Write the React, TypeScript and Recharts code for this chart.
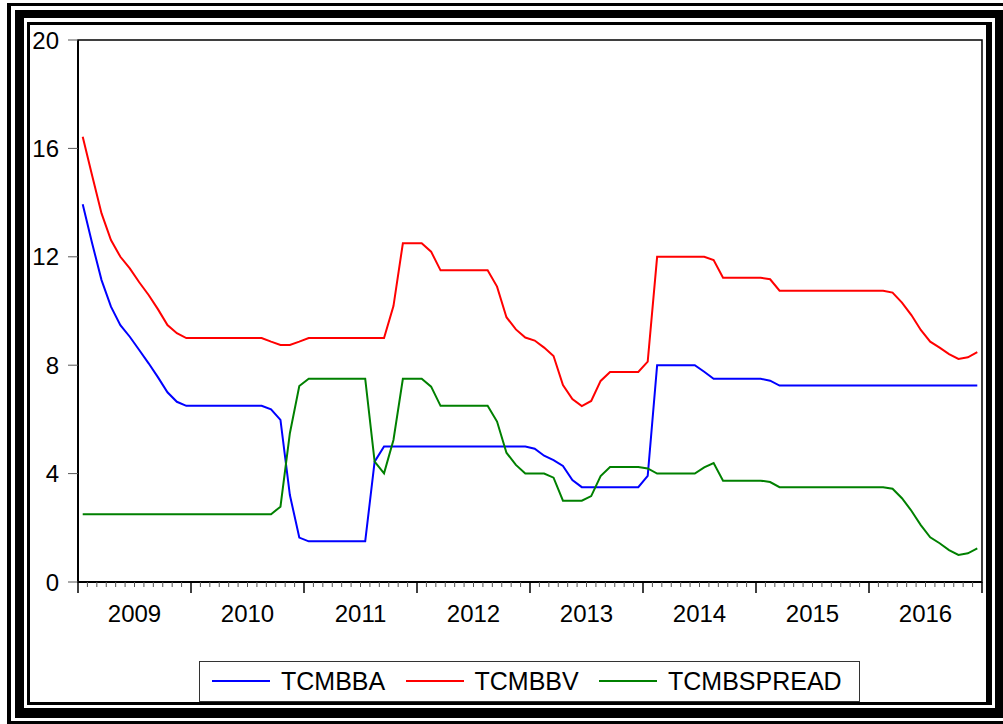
import { LineChart, Line, XAxis, YAxis, ReferenceArea } from "recharts";

const YEARS = ["2009", "2010", "2011", "2012", "2013", "2014", "2015", "2016"];
const Y_TICKS = [0, 4, 8, 12, 16, 20];

// monthly, 2009M01 .. 2016M12
const TCMBBA = [
  13.94, 12.5, 11.14, 10.16, 9.48, 9.05, 8.56, 8.07, 7.55, 7.0, 6.65, 6.5,
  6.5, 6.5, 6.5, 6.5, 6.5, 6.5, 6.5, 6.5, 6.37, 5.98, 3.21, 1.64,
  1.5, 1.5, 1.5, 1.5, 1.5, 1.5, 1.5, 4.44, 5.0, 5.0, 5.0, 5.0,
  5.0, 5.0, 5.0, 5.0, 5.0, 5.0, 5.0, 5.0, 5.0, 5.0, 5.0, 5.0,
  4.92, 4.66, 4.5, 4.28, 3.76, 3.5, 3.5, 3.5, 3.5, 3.5, 3.5, 3.5,
  3.92, 8.0, 8.0, 8.0, 8.0, 8.0, 7.76, 7.5, 7.5, 7.5, 7.5, 7.5,
  7.5, 7.43, 7.25, 7.25, 7.25, 7.25, 7.25, 7.25, 7.25, 7.25, 7.25, 7.25,
  7.25, 7.25, 7.25, 7.25, 7.25, 7.25, 7.25, 7.25, 7.25, 7.25, 7.25, 7.25,
];

const TCMBBV = [
  16.43, 15.0, 13.6, 12.62, 12.0, 11.57, 11.06, 10.59, 10.06, 9.48, 9.18, 9.0,
  9.0, 9.0, 9.0, 9.0, 9.0, 9.0, 9.0, 9.0, 8.87, 8.75, 8.75, 8.87,
  9.0, 9.0, 9.0, 9.0, 9.0, 9.0, 9.0, 9.0, 9.0, 10.18, 12.5, 12.5,
  12.5, 12.19, 11.5, 11.5, 11.5, 11.5, 11.5, 11.5, 10.9, 9.77, 9.32, 9.02,
  8.91, 8.65, 8.34, 7.27, 6.75, 6.49, 6.68, 7.42, 7.75, 7.75, 7.75, 7.75,
  8.13, 12.0, 12.0, 12.0, 12.0, 12.0, 12.0, 11.88, 11.23, 11.23, 11.23, 11.23,
  11.23, 11.17, 10.75, 10.75, 10.75, 10.75, 10.75, 10.75, 10.75, 10.75, 10.75, 10.75,
  10.75, 10.75, 10.68, 10.31, 9.85, 9.3, 8.87, 8.65, 8.41, 8.23, 8.29, 8.48,
];

const TCMBSPREAD = [
  2.5, 2.5, 2.5, 2.5, 2.5, 2.5, 2.5, 2.5, 2.5, 2.5, 2.5, 2.5,
  2.5, 2.5, 2.5, 2.5, 2.5, 2.5, 2.5, 2.5, 2.5, 2.78, 5.49, 7.23,
  7.5, 7.5, 7.5, 7.5, 7.5, 7.5, 7.5, 4.44, 4.01, 5.24, 7.5, 7.5,
  7.5, 7.21, 6.5, 6.5, 6.5, 6.5, 6.5, 6.5, 5.92, 4.77, 4.32, 4.0,
  4.0, 4.0, 3.85, 3.0, 3.0, 3.0, 3.17, 3.91, 4.24, 4.24, 4.24, 4.24,
  4.19, 4.0, 4.0, 4.0, 4.0, 4.0, 4.23, 4.39, 3.74, 3.74, 3.74, 3.74,
  3.74, 3.69, 3.5, 3.5, 3.5, 3.5, 3.5, 3.5, 3.5, 3.5, 3.5, 3.5,
  3.5, 3.5, 3.44, 3.09, 2.63, 2.1, 1.65, 1.43, 1.18, 1.0, 1.06, 1.24,
];

const SERIES = [
  { key: "ba", label: "TCMBBA", color: "#0000ff" },
  { key: "bv", label: "TCMBBV", color: "#ff0000" },
  { key: "sp", label: "TCMBSPREAD", color: "#008000" },
];

const FONT = "'Liberation Sans', Arial, sans-serif";
const MONTHS = YEARS.length * 12;

const data = TCMBBA.map((v, i) => ({
  t: i + 0.5,
  ba: v,
  bv: TCMBBV[i],
  sp: TCMBSPREAD[i],
}));

const monthTicks = Array.from({ length: MONTHS + 1 }, (_, i) => i);

function MonthTick(props: any) {
  const { x, y, payload } = props;
  const m = payload.value as number;
  const major = m % 12 === 0;
  const label = m % 12 === 6 ? YEARS[(m - 6) / 12] : null;
  return (
    <g>
      <line
        x1={x}
        x2={x}
        y1={y}
        y2={y + (major ? 11 : 5)}
        stroke={major ? "#000" : "#555"}
        strokeWidth={major ? 1.5 : 1}
      />
      {label && (
        <text x={x} y={y + 40} textAnchor="middle" fontSize={24} fontFamily={FONT} fill="#000">
          {label}
        </text>
      )}
    </g>
  );
}

// double-ruled page frame: [left, top, right, bottom] edges and [l, t, r, b] widths
function Band({ box, w }: { box: number[]; w: number[] }) {
  const [l, t, r, b] = box;
  return (
    <div
      style={{
        position: "absolute",
        left: l,
        top: t,
        width: r - l,
        height: b - t,
        borderStyle: "solid",
        borderColor: "#000",
        borderWidth: `${w[1]}px ${w[2]}px ${w[3]}px ${w[0]}px`,
        boxSizing: "border-box",
      }}
    />
  );
}

export default function App() {
  return (
    <div
      style={{
        position: "absolute",
        left: 0,
        top: 0,
        width: 1003,
        height: 724,
        background: "#fff",
        overflow: "hidden",
      }}
    >
      <Band box={[7, 3, 1010, 725]} w={[4, 3, 4, 4]} />
      <Band box={[15, 10, 1003, 718]} w={[9, 8, 8, 10]} />
      <Band box={[27, 22, 992, 705]} w={[3, 3, 6, 3]} />
      <div style={{ position: "absolute", left: 0, top: 0 }}>
        <LineChart
          width={1003}
          height={724}
          data={data}
          margin={{ top: 40, right: 21, left: 18, bottom: 102 }}
        >
          <ReferenceArea
            x1={0}
            x2={MONTHS}
            y1={0}
            y2={20}
            fill="none"
            stroke="#000"
            strokeWidth={1.5}
            ifOverflow="visible"
          />
          <XAxis
            dataKey="t"
            type="number"
            domain={[0, MONTHS]}
            ticks={monthTicks}
            interval={0}
            height={40}
            tickSize={0}
            tickMargin={0}
            tickLine={false}
            axisLine={{ stroke: "#000", strokeWidth: 2 }}
            tick={<MonthTick />}
          />
          <YAxis
            type="number"
            domain={[0, 20]}
            ticks={Y_TICKS}
            width={60}
            tickSize={10}
            tickMargin={9}
            tickLine={{ stroke: "#555" }}
            axisLine={{ stroke: "#000", strokeWidth: 2 }}
            tick={{ fontSize: 24, fontFamily: FONT, fill: "#000" }}
          />
          {SERIES.map((s) => (
            <Line
              key={s.key}
              type="linear"
              dataKey={s.key}
              stroke={s.color}
              strokeWidth={2}
              dot={false}
              isAnimationActive={false}
            />
          ))}
        </LineChart>
      </div>
      <div
        style={{
          position: "absolute",
          left: 199,
          top: 661,
          width: 661,
          height: 41,
          border: "1.5px solid #333",
          boxSizing: "border-box",
          background: "#fff",
          fontFamily: FONT,
          fontSize: 25,
          color: "#000",
        }}
      >
        {SERIES.map((s, i) => (
          <div
            key={s.key}
            style={{
              position: "absolute",
              left: 12 + i * 193.5,
              top: 0,
              height: 38,
              display: "flex",
              alignItems: "center",
              whiteSpace: "nowrap",
            }}
          >
            <span
              style={{
                display: "inline-block",
                width: 58,
                height: 2,
                background: s.color,
                marginRight: 11,
              }}
            />
            {s.label}
          </div>
        ))}
      </div>
    </div>
  );
}
